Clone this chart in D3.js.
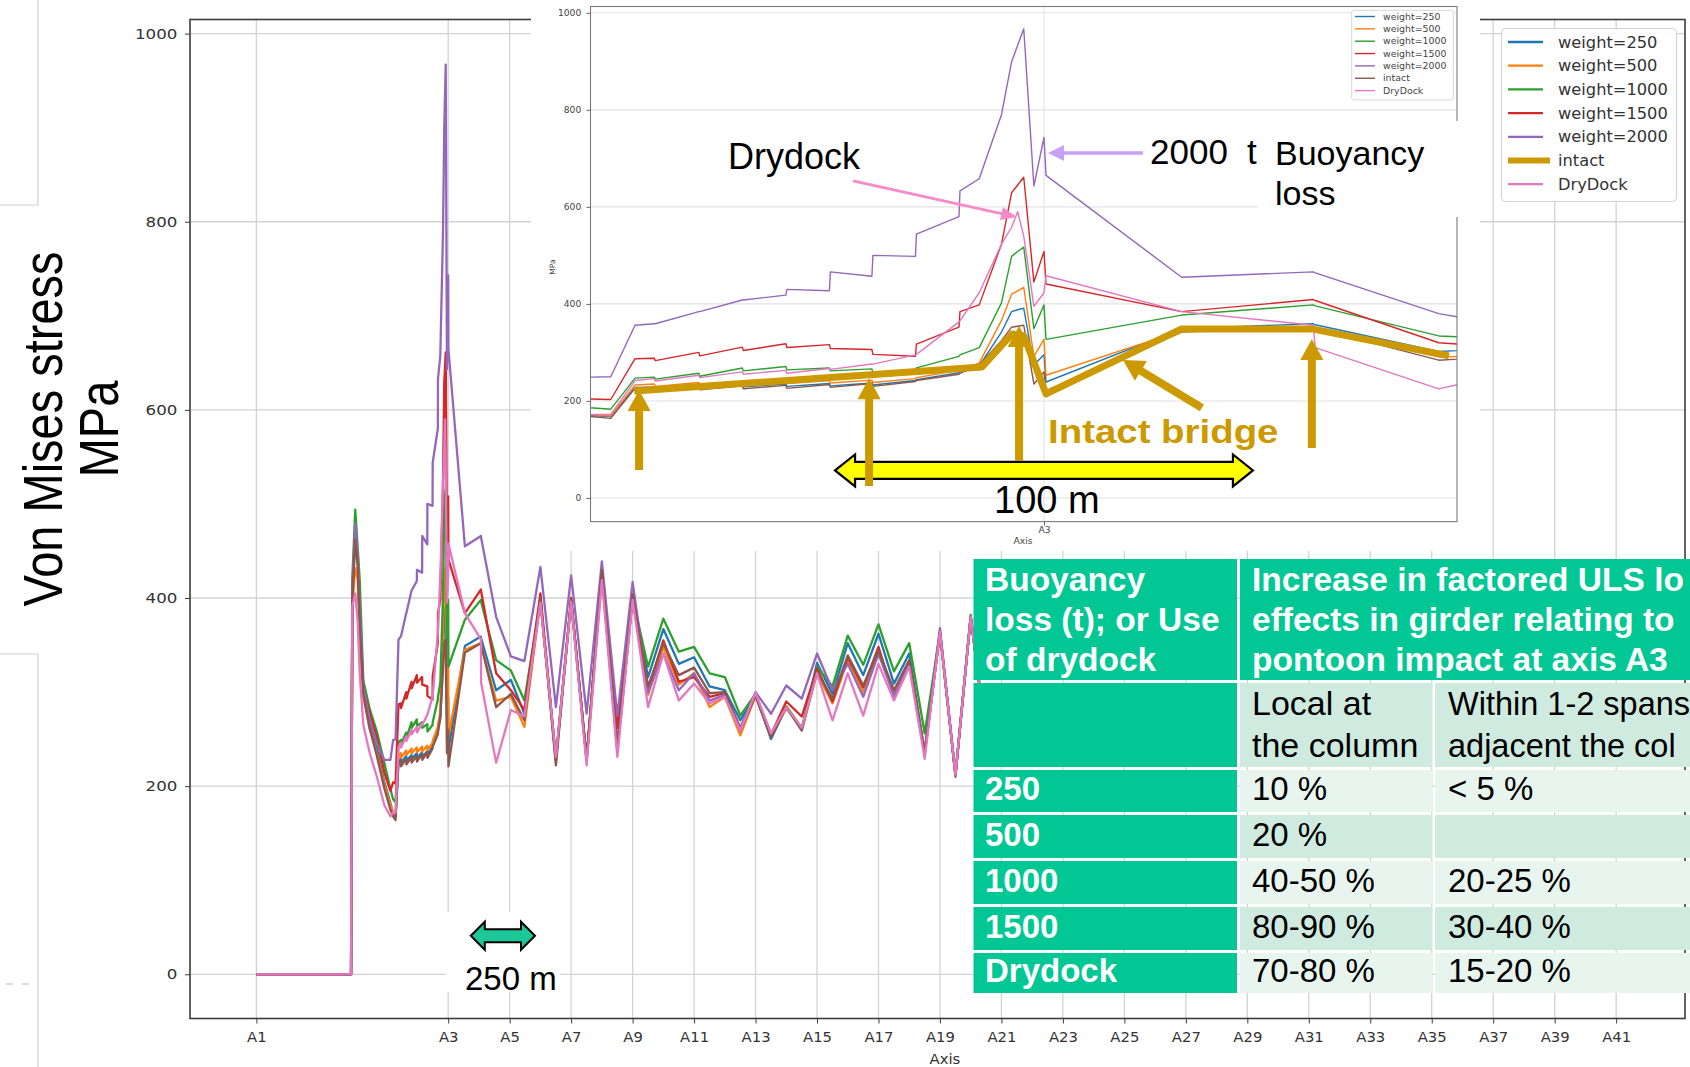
<!DOCTYPE html>
<html>
<head>
<meta charset="utf-8">
<script src="https://cdn.jsdelivr.net/npm/d3@7"></script>
<style>
  body { margin: 0; background: #fff; }
  svg { display: block; }
</style>
</head>
<body>
<svg id="fig" width="1690" height="1067"></svg>
<script>
// ---------------------------------------------------------------
// Girder Von Mises stress along the bridge (chainage in m from A1)
// ---------------------------------------------------------------
const stations = [0,385,390,402,412,420,435,460,490,520,545,556,566,
  578,587.5,588,609.5,610,631,631.5,652.5,653,674,674.5,695,695.5,716.5,717,738,738.5,748,759,764,767,770,775,780,781,
  848,913,914,975,1035,1090,1155,1218,1280,1343,1405,1468,1530,1593,1655,1718,1780,1843,1905,1968,2030,2093,2155,2218,2280,2343,2405,2468,2530,2593,2655,2718,2780,2843,2905,2968];

const weight250 = [0,0,395,468,445,372,300,268,240,205,182,170,168,
  228,229,225,232,227,233,229,235,230,236,231,237,233,242,244,258,260,272,342,384,388,391,274,295,239,
  349,359,357,302,313,277,398,228,398,228,428,238,401,316,367,330,337,306,302,270,297,250,284,260,331,298,352,318,362,309,341,235,364,212,380,250];
const weight500 = [0,0,390,432,420,360,295,262,235,202,180,172,169,
  233,235,230,238,233,240,235,241,236,242,237,243,238,246,248,263,265,278,366,420,427,434,292,327,253,
  345,352,350,291,295,263,397,228,397,228,426,236,399,297,348,308,320,284,295,254,296,253,283,261,320,288,334,300,341,299,330,235,364,212,380,250];
const weight1000 = [0,0,420,494,454,420,312,283,258,225,197,186,183,
  247,249,245,257,251,268,262,271,264,268,262,266,258,265,268,292,295,310,402,498,508,517,349,398,327,
  377,398,396,334,323,291,398,230,398,230,430,240,400,327,378,343,348,320,316,275,298,254,285,262,327,306,360,329,372,322,352,256,364,212,382,255];
const weight1500 = [0,0,400,470,440,380,303,278,252,215,195,204,203,
  287,288,283,300,293,311,304,318,310,316,308,306,296,292,317,352,384,398,523,629,645,661,445,508,441,
  384,409,407,320,302,281,405,228,400,228,428,262,400,303,355,311,316,295,299,262,297,255,290,274,325,290,337,305,348,295,332,235,364,212,380,250];
const weight2000 = [0,0,410,479,445,390,305,272,245,228,228,249,250,
  356,359,359,384,384,408,408,418,430,427,466,457,500,498,544,580,633,658,790,899,933,967,643,743,665,
  455,466,464,380,338,333,433,284,424,277,439,275,417,300,341,302,320,291,297,262,300,277,307,293,341,302,330,295,341,296,330,238,368,212,380,250];
const intact = [0,0,400,462,435,370,298,262,232,198,175,168,164,
  226,227,221,229,223,231,225,232,226,234,228,236,230,240,242,255,257,274,324,352,354,356,235,260,221,
  342,352,350,284,298,270,400,222,398,228,430,245,404,306,352,318,326,299,300,259,296,252,284,259,322,293,339,307,344,302,334,235,364,210,380,250];
const dryDock = [0,0,391,405,375,320,265,236,210,180,168,172,172,
  242,246,241,253,248,260,255,263,257,267,265,276,276,295,296,363,365,423,523,558,590,540,395,423,458,
  384,356,310,225,281,274,395,231,396,222,419,231,398,284,341,291,309,288,295,259,299,256,284,262,320,270,320,275,330,291,327,229,364,212,380,250];

const seriesNames = ["weight=250","weight=500","weight=1000","weight=1500","weight=2000","intact","DryDock"];
const seriesValues = [weight250, weight500, weight1000, weight1500, weight2000, intact, dryDock];

// pontoon axes (labels and chainage, m)
const axisLabels = ["A1","A3","A5","A7","A9","A11","A13","A15","A17","A19","A21","A23","A25","A27","A29","A31","A33","A35","A37","A39","A41"];
const axisChainage = [0,780,1030,1280,1530,1780,2030,2280,2530,2780,3030,3280,3530,3780,4030,4280,4530,4780,5030,5280,5530];
const stressTicks = [0,200,400,600,800,1000];

// hand-drawn trace of the intact bridge in the detail view (m, MPa)
const intactTraceM   = [577.6, 749.4, 764.2, 770.1, 781, 848, 912.3, 980];
const intactTraceMPa = [220.6, 270,   338,   334,   214.4, 348.5, 348.5, 292.8];

// comparison table (the slide crops the right-hand column)
const headCase = ["Buoyancy", "loss (t); or Use", "of drydock"];
const headEffect = ["Increase in factored ULS lo", "effects in girder relating to", "pontoon impact at axis A3"];
const subLocal = ["Local at", "the column"];
const subAdjacent = ["Within 1-2 spans", "adjacent the col"];
const caseNames = ["250", "500", "1000", "1500", "Drydock"];
const localIncrease = ["10 %", "20 %", "40-50 %", "80-90 %", "70-80 %"];
const adjacentIncrease = ["< 5 %", "", "20-25 %", "30-40 %", "15-20 %"];

// ---------------------------------------------------------------
const colors = ["#1f77b4","#ff7f0e","#2ca02c","#d62728","#9467bd","#8c564b","#e377c2"];
const GOLD = "#CC9900";
const TEAL = "#00C794";
const SANS = "'Liberation Sans', Arial, sans-serif";
const MPL = "'DejaVu Sans', sans-serif";

const svg = d3.select("#fig");
svg.append("rect").attr("width", 1690).attr("height", 1067).attr("fill", "#fff");

function addText(parent, x, y, str, o = {}) {
  return parent.append("text")
    .attr("transform", `translate(${x},${y}) scale(${o.sx ?? 1},1)`)
    .attr("font-family", o.family || SANS)
    .attr("font-size", o.size || 14)
    .attr("font-weight", o.weight || "normal")
    .attr("fill", o.fill || "#000")
    .attr("text-anchor", o.anchor || "start")
    .text(str);
}
function arrowPoly(x1, y1, x2, y2, w, hw, hl) {
  const dx = x2 - x1, dy = y2 - y1, L = Math.hypot(dx, dy);
  const ux = dx / L, uy = dy / L, nx = -uy, ny = ux;
  const bx = x2 - ux * hl, by = y2 - uy * hl;
  const p = [[x1 + nx*w/2, y1 + ny*w/2], [bx + nx*w/2, by + ny*w/2], [bx + nx*hw/2, by + ny*hw/2], [x2, y2],
             [bx - nx*hw/2, by - ny*hw/2], [bx - nx*w/2, by - ny*w/2], [x1 - nx*w/2, y1 - ny*w/2]];
  return "M" + p.map(q => q.join(",")).join("L") + "Z";
}
function doubleArrow(x1, x2, yc, w, hw, hl) {
  return `M${x1},${yc}L${x1+hl},${yc-hw/2}L${x1+hl},${yc-w/2}L${x2-hl},${yc-w/2}L${x2-hl},${yc-hw/2}L${x2},${yc}` +
         `L${x2-hl},${yc+hw/2}L${x2-hl},${yc+w/2}L${x1+hl},${yc+w/2}L${x1+hl},${yc+hw/2}Z`;
}
const pointsOf = vals => stations.map((s, i) => [s, vals[i]]);

// slide frame remnants on the left edge
const edge = svg.append("g").attr("fill", "none").attr("stroke", "#cfcfcf").attr("stroke-width", 1.2);
edge.append("path").attr("d", "M0,205H38V0");
edge.append("path").attr("d", "M0,654H38V1067");
edge.append("path").attr("d", "M6,984H30").attr("stroke", "#b5b5b5").attr("stroke-dasharray", "7,9");

// ================= main chart =================
const M = { left: 190, right: 1685, top: 19.5, bottom: 1018.5 };
const x = d3.scaleLinear().domain([-270, 5810]).range([M.left, M.right]);
const y = d3.scaleLinear().domain([-47, 1015]).range([M.bottom, M.top]);

svg.append("clipPath").attr("id", "mainClip").append("rect")
  .attr("x", M.left).attr("y", M.top).attr("width", M.right - M.left).attr("height", M.bottom - M.top);

const gMain = svg.append("g");
const grid = gMain.append("g").attr("stroke", "#d2d2d2").attr("stroke-width", 1.3);
grid.selectAll("line.v").data(axisChainage).join("line").attr("class", "v")
  .attr("x1", d => x(d)).attr("x2", d => x(d)).attr("y1", M.top).attr("y2", M.bottom);
grid.selectAll("line.h").data(stressTicks).join("line").attr("class", "h")
  .attr("x1", M.left).attr("x2", M.right).attr("y1", d => y(d)).attr("y2", d => y(d));

const mainLine = d3.line().x(d => x(d[0])).y(d => y(d[1]));
gMain.append("g").attr("clip-path", "url(#mainClip)")
  .selectAll("path").data(seriesValues).join("path")
  .attr("d", v => mainLine(pointsOf(v)))
  .attr("fill", "none").attr("stroke", (d, i) => colors[i])
  .attr("stroke-width", 2.3).attr("stroke-linejoin", "round");

gMain.append("rect").attr("x", M.left).attr("y", M.top)
  .attr("width", M.right - M.left).attr("height", M.bottom - M.top)
  .attr("fill", "none").attr("stroke", "#3c3c3c").attr("stroke-width", 1.6);

const xAxis = gMain.append("g").attr("transform", `translate(0,${M.bottom})`)
  .call(d3.axisBottom(x).tickValues(axisChainage).tickFormat((d, i) => axisLabels[i]).tickSize(5).tickPadding(9));
const yAxis = gMain.append("g").attr("transform", `translate(${M.left},0)`)
  .call(d3.axisLeft(y).tickValues(stressTicks).tickFormat(d3.format("d")).tickSize(5).tickPadding(6));
[xAxis, yAxis].forEach(a => {
  a.select(".domain").remove();
  a.selectAll("line").attr("stroke", "#3c3c3c");
  a.selectAll("text").attr("font-family", MPL).attr("fill", "#333");
});
xAxis.selectAll("text").attr("font-size", 13.5).attr("transform", "scale(1.1,1)");
yAxis.selectAll("text").attr("font-size", 14.5).attr("transform", "scale(1.15,1)");
addText(gMain, x(2800), 1064, "Axis", { family: MPL, size: 13.5, fill: "#333", anchor: "middle", sx: 1.1 });

// y title
[["Von Mises stress", 62], ["MPa", 118]].forEach(([s, bx]) => {
  svg.append("text")
    .attr("transform", `translate(${bx},429) rotate(-90) scale(1,1.18)`)
    .attr("font-family", SANS).attr("font-size", 47).attr("text-anchor", "middle")
    .attr("fill", "#000").text(s);
});

// main legend
const lg = svg.append("g");
lg.append("rect").attr("x", 1501.5).attr("y", 28.5).attr("width", 175).attr("height", 173)
  .attr("rx", 4).attr("fill", "#fff").attr("fill-opacity", 0.9).attr("stroke", "#d0d0d0");
seriesNames.forEach((n, i) => {
  const cy = 42 + i * 23.7;
  const isIntact = n === "intact";
  lg.append("line").attr("x1", 1508).attr("x2", isIntact ? 1550 : 1543).attr("y1", cy).attr("y2", cy)
    .attr("stroke", isIntact ? GOLD : colors[i]).attr("stroke-width", isIntact ? 6 : 2.3);
  addText(lg, 1558, cy + 5.5, n, { family: MPL, size: 15.5, fill: "#333", sx: 1.05 });
});

// ================= detail view around A3 =================
svg.append("rect").attr("x", 531).attr("y", 0).attr("width", 949).attr("height", 551).attr("fill", "#fff");

const I = { left: 590.5, right: 1457, top: 6.5, bottom: 521.6 };
const xi = d3.scaleLinear().domain([556, 984]).range([I.left, I.right]);
const yi = d3.scaleLinear().domain([-48.7, 1013]).range([I.bottom, I.top]);
svg.append("clipPath").attr("id", "insetClip").append("rect")
  .attr("x", I.left).attr("y", I.top).attr("width", I.right - I.left).attr("height", I.bottom - I.top);

const gIn = svg.append("g");
const igrid = gIn.append("g").attr("stroke", "#e2e2e2").attr("stroke-width", 1.1);
igrid.selectAll("line.h").data(stressTicks).join("line").attr("class", "h")
  .attr("x1", I.left).attr("x2", I.right).attr("y1", d => yi(d)).attr("y2", d => yi(d));
igrid.append("line").attr("x1", xi(axisChainage[1])).attr("x2", xi(axisChainage[1]))
  .attr("y1", I.top).attr("y2", I.bottom);

const insetLine = d3.line().x(d => xi(d[0])).y(d => yi(d[1]));
gIn.append("g").attr("clip-path", "url(#insetClip)")
  .selectAll("path").data(seriesValues).join("path")
  .attr("d", v => insetLine(pointsOf(v)))
  .attr("fill", "none").attr("stroke", (d, i) => colors[i])
  .attr("stroke-width", 1.4).attr("stroke-linejoin", "round");

gIn.append("rect").attr("x", I.left).attr("y", I.top)
  .attr("width", I.right - I.left).attr("height", I.bottom - I.top)
  .attr("fill", "none").attr("stroke", "#7a7a7a").attr("stroke-width", 1.1);

const yAxI = gIn.append("g").attr("transform", `translate(${I.left},0)`)
  .call(d3.axisLeft(yi).tickValues(stressTicks).tickFormat(d3.format("d")).tickSize(4).tickPadding(4));
const xAxI = gIn.append("g").attr("transform", `translate(0,${I.bottom})`)
  .call(d3.axisBottom(xi).tickValues([axisChainage[1]]).tickFormat(() => axisLabels[1]).tickSize(4).tickPadding(2));
[yAxI, xAxI].forEach(a => {
  a.select(".domain").remove();
  a.selectAll("line").attr("stroke", "#666");
  a.selectAll("text").attr("font-family", MPL).attr("font-size", 8).attr("fill", "#444")
    .attr("transform", "scale(1.15,1)");
});
addText(gIn, 1023, 544, "Axis", { family: MPL, size: 8, fill: "#444", anchor: "middle", sx: 1.15 });
gIn.append("text").attr("transform", "translate(555,267) rotate(-90)")
  .attr("font-family", MPL).attr("font-size", 7.5).attr("fill", "#444").attr("text-anchor", "middle").text("MPa");

// detail view legend
const lgi = gIn.append("g");
lgi.append("rect").attr("x", 1351.7).attr("y", 10.3).attr("width", 101.6).attr("height", 89.6)
  .attr("rx", 2).attr("fill", "#fff").attr("stroke", "#d6d6d6");
seriesNames.forEach((n, i) => {
  const cy = 16.5 + i * 12.35;
  lgi.append("line").attr("x1", 1355).attr("x2", 1375).attr("y1", cy).attr("y2", cy)
    .attr("stroke", colors[i]).attr("stroke-width", 1.4);
  addText(lgi, 1383, cy + 3.2, n, { family: MPL, size: 8.4, fill: "#444", sx: 1.12 });
});

// annotations on the detail view
const ann = svg.append("g");
ann.append("rect").attr("x", 1257).attr("y", 121).attr("width", 208).attr("height", 96).attr("fill", "#fff");

// intact bridge trace
ann.append("path")
  .attr("d", d3.line()(intactTraceM.map((m, i) => [xi(m), yi(intactTraceMPa[i])])))
  .attr("fill", "none").attr("stroke", GOLD).attr("stroke-width", 7).attr("stroke-linejoin", "round");

// 100 m span arrow
ann.append("path").attr("d", doubleArrow(xi(676.8), xi(883.2), yi(56.7), 17, 32, 20))
  .attr("fill", "#FFFF00").attr("stroke", "#000").attr("stroke-width", 2.2).attr("stroke-linejoin", "miter");
addText(ann, 994, 513, "100 m", { size: 38 });

// gold pointers (tail m, tail MPa, tip m, tip MPa)
const goldPointers = [[580, 57.7, 580, 222.7], [693.6, 24.7, 693.6, 247], [767.7, 76.3, 767.7, 354.6],
                      [912.3, 103, 912.3, 327.8], [858, 185.6, 819, 284.5]];
goldPointers.forEach(p => {
  ann.append("path").attr("d", arrowPoly(xi(p[0]), yi(p[1]), xi(p[2]), yi(p[3]), 8, 23, 21)).attr("fill", GOLD);
});
addText(ann, 1048, 443, "Intact bridge", { size: 34, weight: "bold", fill: GOLD, sx: 1.13 });

// drydock pointer
ann.append("path").attr("d", arrowPoly(xi(685.7), yi(653.6), xi(766.7), yi(579), 3, 13, 16)).attr("fill", "#F58CC8");
addText(ann, 728, 169, "Drydock", { size: 36 });
// 2000 t pointer
ann.append("path").attr("d", arrowPoly(xi(828.9), yi(711), xi(782), yi(711), 3.5, 16, 16)).attr("fill", "#C7A0FA");
addText(ann, 1150, 164, "2000", { size: 35 });
addText(ann, 1247, 164, "t", { size: 35 });
addText(ann, 1275, 165, "Buoyancy", { size: 34 });
addText(ann, 1275, 205, "loss", { size: 34 });

// ================= table =================
const T = { c0: 972, c1: 1238.5, c2: 1433.5, c3: 1700 };
const rowBands = [[559, 680], [683, 767], [770, 812], [815, 858], [861, 904], [907, 950], [953, 993]];
const tb = svg.append("g");
function cell(x0, x1, band, fill) {
  tb.append("rect").attr("x", x0 + 1.5).attr("y", band[0]).attr("width", x1 - x0 - 3)
    .attr("height", band[1] - band[0]).attr("fill", fill);
}
const LIGHT = "#E7F5EE", MID = "#CFEBDF";
cell(T.c0, T.c1, rowBands[0], TEAL);
cell(T.c1, T.c3, rowBands[0], TEAL);
cell(T.c0, T.c1, rowBands[1], TEAL);
cell(T.c1, T.c2, rowBands[1], MID);
cell(T.c2, T.c3, rowBands[1], MID);
caseNames.forEach((c, i) => {
  const band = rowBands[i + 2], f = i % 2 === 0 ? LIGHT : MID;
  cell(T.c0, T.c1, band, TEAL);
  cell(T.c1, T.c2, band, f);
  cell(T.c2, T.c3, band, f);
});
headCase.forEach((s, i) => addText(tb, 985, 591 + i * 40, s, { size: 33.5, weight: "bold", fill: "#fff" }));
headEffect.forEach((s, i) => addText(tb, 1252, 591 + i * 40, s, { size: 33.5, weight: "bold", fill: "#fff" }));
subLocal.forEach((s, i) => addText(tb, 1252, 715 + i * 42, s, { size: 34 }));
subAdjacent.forEach((s, i) => addText(tb, 1448, 715 + i * 42, s, { size: 32.5 }));
caseNames.forEach((c, i) => {
  const mid = (rowBands[i + 2][0] + rowBands[i + 2][1]) / 2 + 9;
  addText(tb, 985, mid, c, { size: 33, weight: "bold", fill: "#fff" });
  addText(tb, 1252, mid, localIncrease[i], { size: 33 });
  addText(tb, 1448, mid, adjacentIncrease[i], { size: 33 });
});

// ================= 250 m scale arrow =================
const sc = svg.append("g");
sc.append("rect").attr("x", 446).attr("y", 912).attr("width", 114).attr("height", 80).attr("fill", "#fff");
sc.append("path").attr("d", doubleArrow(x(872), x(1133), y(41), 13, 28, 14))
  .attr("fill", "#1CC89A").attr("stroke", "#000").attr("stroke-width", 2);
addText(sc, 465, 990, "250 m", { size: 33 });
</script>
</body>
</html>
